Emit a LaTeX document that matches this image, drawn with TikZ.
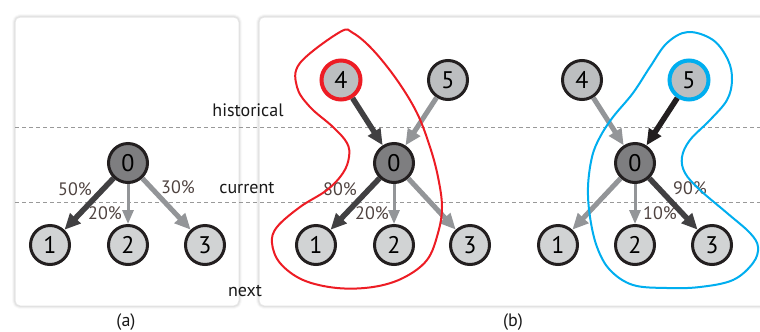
\documentclass[tikz,border=0pt]{standalone}
\usepackage{fontspec}
\setmainfont{PT Sans}
\usetikzlibrary{arrows.meta, shadows.blur}
\usepackage{xcolor}

\definecolor{nodeline}{HTML}{231F20}
\definecolor{curfill}{HTML}{7E7E80}
\definecolor{histfill}{HTML}{BCBEC0}
\definecolor{nextfill}{HTML}{D1D3D4}
\definecolor{darkarrow}{HTML}{414042}
\definecolor{grayarrow}{HTML}{939598}
\definecolor{pcttext}{HTML}{4F4340}
\definecolor{selred}{HTML}{ED1C24}
\definecolor{selblue}{HTML}{00AEEF}

\tikzstyle{arrow} = [
    line width=5.5bp,
    -{Triangle[length=16bp,width=14bp]},
    draw=darkarrow
]

\begin{document}
\begin{tikzpicture}[
    x=1bp, y=-1bp,
    panel/.style={
        draw=black!10,
        line width=1bp,
        fill=white,
        rounded corners=5bp,
        blur shadow={shadow xshift=0bp, shadow yshift=0bp,
            shadow blur radius=3bp, shadow opacity=30}
    },
    guide/.style={
        draw=black!40,
        line width=0.8bp,
        dash pattern=on 4bp off 3bp
    },
    state/.style={
        circle,
        draw=nodeline,
        line width=3bp,
        minimum size=39bp,
        inner sep=0pt,
        font=\fontsize{24bp}{24bp}\selectfont
    },
    cur/.style={state, fill=curfill},
    hist/.style={state, fill=histfill},
    nxt/.style={state, fill=nextfill},
    lvl/.style={font=\fontsize{18bp}{18bp}\selectfont, text=black!90},
    pct/.style={font=\fontsize{18bp}{18bp}\selectfont, text=pcttext},
    heavy/.style={arrow},
    light/.style={arrow, draw=grayarrow, line width=5bp},
    thin/.style={arrow, draw=grayarrow, line width=3bp,
        -{Triangle[length=14bp,width=11bp]}},
    strong/.style={arrow, draw=nodeline},
    lasso/.style={line width=2bp, smooth cycle, tension=0.6}
]
\useasboundingbox (0,0) rectangle (760,331);

% Panels
\path[panel] (15,17) rectangle (239,306);
\path[panel] (259,17) rectangle (790,306);
\node[lvl] (capa) at (126,322) {(a)};
\node[lvl] (capb) at (513,322) {(b)};

% Level lines
\draw[guide] (15,127) -- (760,127);
\draw[guide] (15,202) -- (760,202);
\node[lvl] (hist) at (248,110) {historical};
\node[lvl] (curr) at (247,188) {current};
\node[lvl] (next) at (245,291) {next};

% (a) single step
\node[cur] (a0) at (128,163) {0};
\node[nxt] (a1) at (50,245) {1};
\node[nxt] (a2) at (128,245) {2};
\node[nxt] (a3) at (205,245) {3};
\draw[heavy] (a0) -- (a1);
\draw[thin] (a0) -- (a2);
\draw[light] (a0) -- (a3);
\node[pct] (pa1) at (75,189) {50\%};
\node[pct] (pa2) at (105,213) {20\%};
\node[pct] (pa3) at (178,187) {30\%};

% (b) history 4 -> 0
\node[hist, draw=selred, line width=4bp] (b4) at (341,80) {4};
\node[hist] (b5) at (448,80) {5};
\node[cur] (b0) at (394,163) {0};
\node[nxt] (b1) at (316,245) {1};
\node[nxt] (b2) at (394,245) {2};
\node[nxt] (b3) at (470,245) {3};
\draw[heavy] (b4) -- (b0);
\draw[light] (b5) -- (b0);
\draw[heavy] (b0) -- (b1);
\draw[thin] (b0) -- (b2);
\draw[light] (b0) -- (b3);
\node[pct] (pb1) at (340,189) {80\%};
\node[pct] (pb2) at (372,213) {20\%};

% (b) history 5 -> 0
\node[hist] (c4) at (582,80) {4};
\node[hist, draw=selblue, line width=4bp] (c5) at (689,80) {5};
\node[cur] (c0) at (635,163) {0};
\node[nxt] (c1) at (558,245) {1};
\node[nxt] (c2) at (635,245) {2};
\node[nxt] (c3) at (712,245) {3};
\draw[light] (c4) -- (c0);
\draw[strong] (c5) -- (c0);
\draw[light] (c0) -- (c1);
\draw[thin] (c0) -- (c2);
\draw[heavy] (c0) -- (c3);
\node[pct] (pc3) at (690,188) {90\%};
\node[pct] (pc2) at (660,213) {10\%};

% Selections
\draw[lasso, selred] plot coordinates {
    (340,32) (300,63) (297,87) (310,107) (333,127) (347,143) (349,157)
    (343,173) (327,190) (300,207) (277,227) (272,243) (280,263) (303,280)
    (337,288) (373,287) (403,278) (427,260) (438,233) (442,207) (438,177)
    (430,147) (417,113) (397,80) (373,50) (353,33)};
\draw[lasso, selblue] plot coordinates {
    (688,32) (713,40) (728,60) (732,80) (727,100) (710,120) (690,140)
    (682,157) (685,173) (700,190) (727,213) (750,233) (758,247) (753,263)
    (733,280) (700,287) (667,288) (633,285) (610,270) (597,247) (590,217)
    (588,187) (592,157) (600,137) (613,117) (633,93) (650,67) (667,43)};
\end{tikzpicture}
\end{document}
